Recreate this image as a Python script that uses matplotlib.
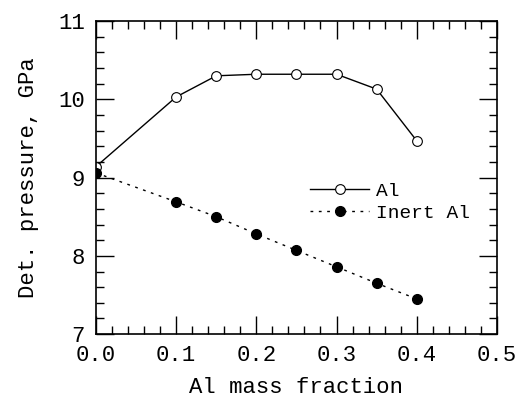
import matplotlib
matplotlib.use("Agg")
import matplotlib.pyplot as plt
from matplotlib.ticker import MultipleLocator

# Al mass fraction
mass_fraction = [0.0, 0.1, 0.15, 0.2, 0.25, 0.3, 0.35, 0.4]
# detonation pressure, GPa
p_al = [9.14, 10.03, 10.30, 10.32, 10.32, 10.32, 10.13, 9.47]
p_inert = [9.06, 8.69, 8.50, 8.28, 8.07, 7.86, 7.65, 7.45]

plt.rcParams["font.family"] = ["Liberation Mono", "DejaVu Sans Mono"]

fig = plt.figure(figsize=(5.16, 4.12), dpi=100)
ax = fig.add_axes([0.186, 0.189, 0.777, 0.760])

ax.plot(mass_fraction, p_al, color="black", linewidth=1.0,
        marker="o", markersize=7, markerfacecolor="white",
        markeredgecolor="black", markeredgewidth=0.8, label="Al")
ax.plot(mass_fraction, p_inert, color="black", linewidth=1.0,
        linestyle=(0, (2, 4)), marker="o", markersize=7,
        markerfacecolor="black", markeredgecolor="black", label="Inert Al")

ax.set_xlim(0, 0.5)
ax.set_ylim(7, 11)
ax.xaxis.set_major_locator(MultipleLocator(0.1))
ax.xaxis.set_minor_locator(MultipleLocator(0.02))
ax.yaxis.set_major_locator(MultipleLocator(1))
ax.yaxis.set_minor_locator(MultipleLocator(0.2))
ax.xaxis.set_major_formatter(plt.FuncFormatter(lambda v, p: f"{v:.1f}"))
ax.tick_params(which="both", direction="in", top=True, right=True,
               labelsize=16, width=1.0)
ax.tick_params(which="major", length=13, pad=8)
ax.tick_params(which="minor", length=6)
for s in ax.spines.values():
    s.set_linewidth(1.2)

ax.set_xlabel("Al mass fraction", fontsize=16, labelpad=8)
ax.set_ylabel("Det. pressure, GPa", fontsize=16, labelpad=14)

ax.legend(loc="upper left", bbox_to_anchor=(0.525, 0.497), frameon=False,
          fontsize=14, handlelength=3.0, handletextpad=0.4,
          labelspacing=0.2, borderaxespad=0, borderpad=0.2)

fig.savefig("out.png", dpi=100)
